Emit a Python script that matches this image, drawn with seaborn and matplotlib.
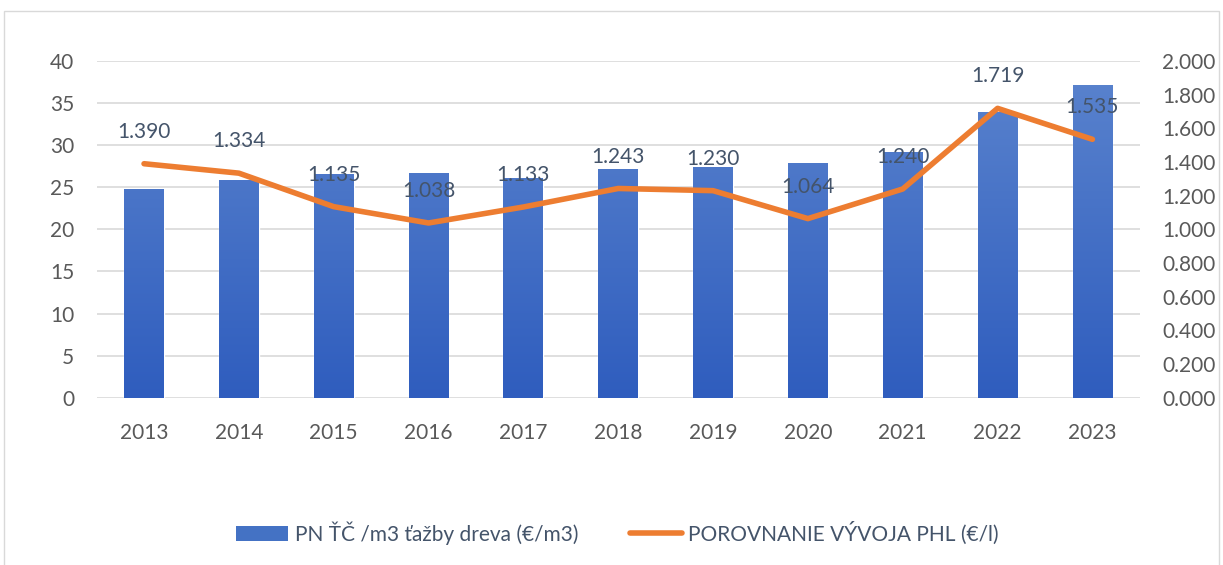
import numpy as np
import pandas as pd
import matplotlib.pyplot as plt
import seaborn as sns
from matplotlib.patches import Patch
from matplotlib.lines import Line2D
from matplotlib.colors import LinearSegmentedColormap

# data
roky = ['2013', '2014', '2015', '2016', '2017', '2018', '2019', '2020', '2021', '2022', '2023']
pn_tazba = [24.8, 25.9, 26.6, 26.7, 26.1, 27.2, 27.4, 27.9, 29.2, 33.9, 37.1]
phl = [1.390, 1.334, 1.135, 1.038, 1.133, 1.243, 1.230, 1.064, 1.240, 1.719, 1.535]

nazov_bar = 'PN ŤČ /m3 ťažby dreva (€/m3)'
nazov_line = 'POROVNANIE VÝVOJA PHL (€/l)'

df = pd.DataFrame({'rok': roky, 'pn': pn_tazba, 'phl': phl})

sns.set_theme(style='white')
plt.rcParams['font.family'] = ['Lato', 'DejaVu Sans']

text_col = '#595959'
lab_col = '#44546A'
grid_col = '#D9D9D9'
orange = '#ED7D31'
fs = 15

fig = plt.figure(figsize=(12.23, 5.65), dpi=100)
ax = fig.add_axes([0.079, 0.296, 0.853, 0.596])

# stlpce
sns.barplot(data=df, x='rok', y='pn', color='#4472C4', width=0.42,
            saturation=1, ax=ax, zorder=2)

# gradient v stlpcoch (svetlejsi hore, tmavsi dole)
cmap = LinearSegmentedColormap.from_list('g', ['#2F5DBE', '#5B84CE'])
grad = np.linspace(0, 1, 256).reshape(-1, 1)
for p in ax.patches:
    x0 = p.get_x()
    w = p.get_width()
    im = ax.imshow(grad, cmap=cmap, origin='lower', aspect='auto',
                   extent=[x0, x0 + w, 0, 40], zorder=2.5)
    im.set_clip_path(p)
ax.set_xlim(-0.5, 10.5)
ax.set_ylim(0, 40)
ax.set_yticks(range(0, 41, 5))

ax.grid(axis='y', color=grid_col, linewidth=1.2, zorder=0)
ax.set_axisbelow(True)
for s in ax.spines.values():
    s.set_visible(False)
ax.set_xlabel('')
ax.set_ylabel('')
ax.tick_params(axis='x', length=0, labelsize=fs, colors=text_col, pad=18)
ax.tick_params(axis='y', length=0, labelsize=fs, colors=text_col, pad=16)

# ciara na pravej osi
ax2 = ax.twinx()
sns.lineplot(data=df, x='rok', y='phl', color=orange, linewidth=4,
             ax=ax2, sort=False, solid_capstyle='round', zorder=3)
ax2.set_ylim(0, 2.0)
ax2.set_yticks(np.arange(0, 2.01, 0.2))
ax2.set_yticklabels([f'{v:.3f}' for v in np.arange(0, 2.01, 0.2)])
ax2.set_xlim(-0.5, 10.5)
ax2.set_ylabel('')
ax2.set_xlabel('')
for s in ax2.spines.values():
    s.set_visible(False)
ax2.tick_params(axis='y', length=0, labelsize=fs, colors=text_col, pad=16)

for i, v in enumerate(phl):
    ax2.annotate(f'{v:.3f}', (i, v), xytext=(0, 23), textcoords='offset points',
                 ha='center', va='center', fontsize=fs, color=lab_col, zorder=4)

# legenda
handles = [Patch(facecolor='#4472C4', edgecolor='none'),
           Line2D([0], [0], color=orange, linewidth=4, solid_capstyle='round')]
fig.legend(handles, [nazov_bar, nazov_line], loc='center', ncol=2,
           bbox_to_anchor=(0.505, 0.057), frameon=False, fontsize=fs,
           labelcolor=lab_col, handlelength=2.5, handletextpad=0.3,
           columnspacing=2.5)

# ramcek okolo grafu
fig.patches.append(plt.Rectangle((0.003, -0.01), 0.994, 0.99,
                                 transform=fig.transFigure, fill=False,
                                 edgecolor=grid_col, linewidth=1))

plt.savefig('out.png', dpi=100)
plt.close()
